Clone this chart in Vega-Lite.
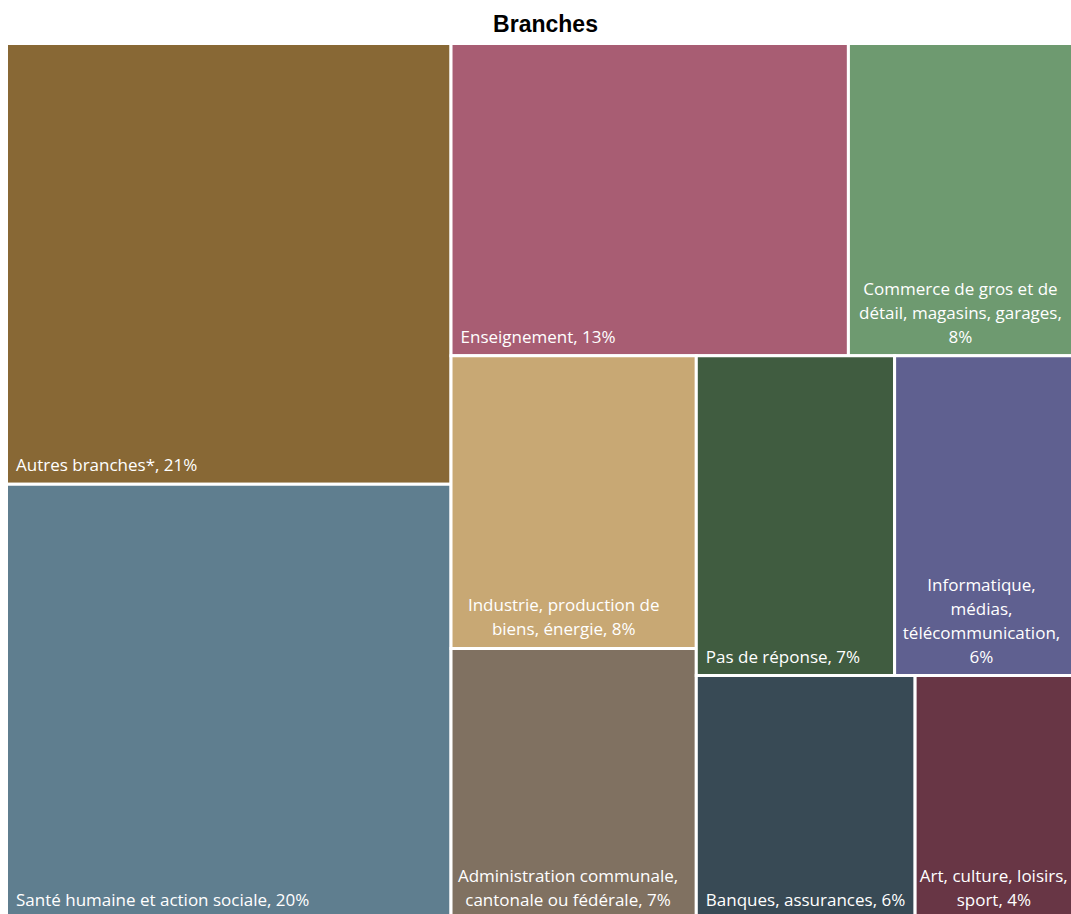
{
  "$schema": "https://vega.github.io/schema/vega-lite/v6.json",
  "width": 1066,
  "height": 875,
  "autosize": {"type": "none"},
  "padding": {"left": 6.5, "top": 43.5, "right": 0, "bottom": 0},
  "background": "white",
  "title": {"text": "Branches", "font": "Liberation Sans", "fontSize": 23, "fontWeight": "bold", "color": "#000000", "anchor": "middle", "offset": 5, "dx": 6},
  "config": {"view": {"stroke": null}},
  "data": {"values": [
    {"order": 1, "name": "Autres branches*", "label": "Autres branches*, 21%", "value": 21.0, "g1": "L", "g2": "L.1", "g3": "L.1", "g4": "L.1"},
    {"order": 2, "name": "Santé humaine et action sociale", "label": "Santé humaine et action sociale, 20%", "value": 20.7, "g1": "L", "g2": "L.2", "g3": "L.2", "g4": "L.2"},
    {"order": 3, "name": "Enseignement", "label": "Enseignement, 13%", "value": 13.3, "g1": "R", "g2": "R.T", "g3": "R.T.1", "g4": "R.T.1"},
    {"order": 4, "name": "Commerce de gros et de détail, magasins, garages", "label": "Commerce de gros et de\ndétail, magasins, garages,\n8%", "value": 7.5, "g1": "R", "g2": "R.T", "g3": "R.T.2", "g4": "R.T.2"},
    {"order": 5, "name": "Industrie, production de biens, énergie", "label": "Industrie, production de\nbiens, énergie, 8%", "value": 7.7, "g1": "R", "g2": "R.B", "g3": "R.B.1", "g4": "R.B.1.1"},
    {"order": 6, "name": "Administration communale, cantonale ou fédérale", "label": "Administration communale,\ncantonale ou fédérale, 7%", "value": 7.1, "g1": "R", "g2": "R.B", "g3": "R.B.1", "g4": "R.B.1.2"},
    {"order": 7, "name": "Pas de réponse", "label": "Pas de réponse, 7%", "value": 6.8, "g1": "R", "g2": "R.B", "g3": "R.B.2", "g4": "R.B.2.1"},
    {"order": 8, "name": "Informatique, médias, télécommunication", "label": "Informatique,\nmédias,\ntélécommunication,\n6%", "value": 6.1, "g1": "R", "g2": "R.B", "g3": "R.B.2", "g4": "R.B.2.1"},
    {"order": 9, "name": "Banques, assurances", "label": "Banques, assurances, 6%", "value": 5.7, "g1": "R", "g2": "R.B", "g3": "R.B.2", "g4": "R.B.2.2"},
    {"order": 10, "name": "Art, culture, loisirs, sport", "label": "Art, culture, loisirs,\nsport, 4%", "value": 4.1, "g1": "R", "g2": "R.B", "g3": "R.B.2", "g4": "R.B.2.2"}
  ]},
  "transform": [
    {"joinaggregate": [{"op": "sum", "field": "value", "as": "T"}]},
    {"joinaggregate": [{"op": "sum", "field": "value", "as": "s1"}], "groupby": ["g1"]},
    {"joinaggregate": [{"op": "sum", "field": "value", "as": "s2"}], "groupby": ["g2"]},
    {"joinaggregate": [{"op": "sum", "field": "value", "as": "s3"}], "groupby": ["g3"]},
    {"joinaggregate": [{"op": "sum", "field": "value", "as": "s4"}], "groupby": ["g4"]},
    {"window": [{"op": "sum", "field": "value", "as": "c0"}], "sort": [{"field": "order"}]},
    {"window": [{"op": "sum", "field": "value", "as": "c1"}], "sort": [{"field": "order"}], "groupby": ["g1"]},
    {"window": [{"op": "sum", "field": "value", "as": "c2"}], "sort": [{"field": "order"}], "groupby": ["g2"]},
    {"window": [{"op": "sum", "field": "value", "as": "c3"}], "sort": [{"field": "order"}], "groupby": ["g3"]},
    {"window": [{"op": "sum", "field": "value", "as": "c4"}], "sort": [{"field": "order"}], "groupby": ["g4"]},
    {"calculate": "(datum.c0 - datum.c1) / datum.T", "as": "ax"},
    {"calculate": "datum.s1 / datum.T", "as": "aw"},
    {"calculate": "(datum.c1 - datum.c2) / datum.s1", "as": "by"},
    {"calculate": "datum.s2 / datum.s1", "as": "bh"},
    {"calculate": "datum.ax + datum.aw * (datum.c2 - datum.c3) / datum.s2", "as": "cx"},
    {"calculate": "datum.aw * datum.s3 / datum.s2", "as": "cw"},
    {"calculate": "datum.by + datum.bh * (datum.c3 - datum.c4) / datum.s3", "as": "y0"},
    {"calculate": "datum.by + datum.bh * (datum.c3 - datum.c4 + datum.s4) / datum.s3", "as": "y1"},
    {"calculate": "datum.cx + datum.cw * (datum.c4 - datum.value) / datum.s4", "as": "x0"},
    {"calculate": "datum.cx + datum.cw * datum.c4 / datum.s4", "as": "x1"}
  ],
  "layer": [
    {
      "mark": {"type": "rect", "stroke": "white", "strokeWidth": 3},
      "encoding": {
        "x": {"field": "x0", "type": "quantitative", "scale": {"domain": [0, 1], "nice": false, "zero": false}, "axis": null},
        "x2": {"field": "x1"},
        "y": {"field": "y0", "type": "quantitative", "scale": {"domain": [0, 1], "nice": false, "zero": false, "reverse": true}, "axis": null},
        "y2": {"field": "y1"},
        "color": {"field": "name", "type": "nominal", "legend": null, "scale": {
          "domain": ["Autres branches*", "Santé humaine et action sociale", "Enseignement", "Commerce de gros et de détail, magasins, garages", "Industrie, production de biens, énergie", "Administration communale, cantonale ou fédérale", "Pas de réponse", "Informatique, médias, télécommunication", "Banques, assurances", "Art, culture, loisirs, sport"],
          "range": ["#886835", "#5F7E8F", "#A85D73", "#6E9A70", "#C8A874", "#807161", "#405C40", "#5F6090", "#384A55", "#683645"]}}
      }
    },
    {
      "transform": [{"filter": "indexof(datum.label, '\\n') < 0"}],
      "mark": {"type": "text", "align": "left", "baseline": "bottom", "dx": 9.5, "dy": -9, "font": "Open Sans", "fontSize": 17, "color": "white"},
      "encoding": {
        "x": {"field": "x0", "type": "quantitative", "scale": {"domain": [0, 1], "nice": false, "zero": false}, "axis": null},
        "y": {"field": "y1", "type": "quantitative", "scale": {"domain": [0, 1], "nice": false, "zero": false, "reverse": true}, "axis": null},
        "text": {"field": "label", "type": "nominal"}
      }
    },
    {
      "transform": [
        {"filter": "indexof(datum.label, '\\n') >= 0"},
        {"calculate": "split(datum.label, '\\n')", "as": "parts"},
        {"calculate": "max(length(datum.parts[0]), length(datum.parts[1] || ''), length(datum.parts[2] || ''), length(datum.parts[3] || ''))", "as": "nmax"},
        {"calculate": "datum.x0 + (9.5 + min(datum.nmax * 8.6, (datum.x1 - datum.x0) * 1066 - 19) / 2) / 1066", "as": "xc"},
        {"calculate": "datum.y1 - (length(datum.parts) - 1) * 24 / 875", "as": "yt"}
      ],
      "mark": {"type": "text", "align": "center", "baseline": "bottom", "dy": -9, "font": "Open Sans", "fontSize": 17, "lineHeight": 24, "lineBreak": "\n", "color": "white"},
      "encoding": {
        "x": {"field": "xc", "type": "quantitative", "scale": {"domain": [0, 1], "nice": false, "zero": false}, "axis": null},
        "y": {"field": "yt", "type": "quantitative", "scale": {"domain": [0, 1], "nice": false, "zero": false, "reverse": true}, "axis": null},
        "text": {"field": "label", "type": "nominal"}
      }
    }
  ]
}
